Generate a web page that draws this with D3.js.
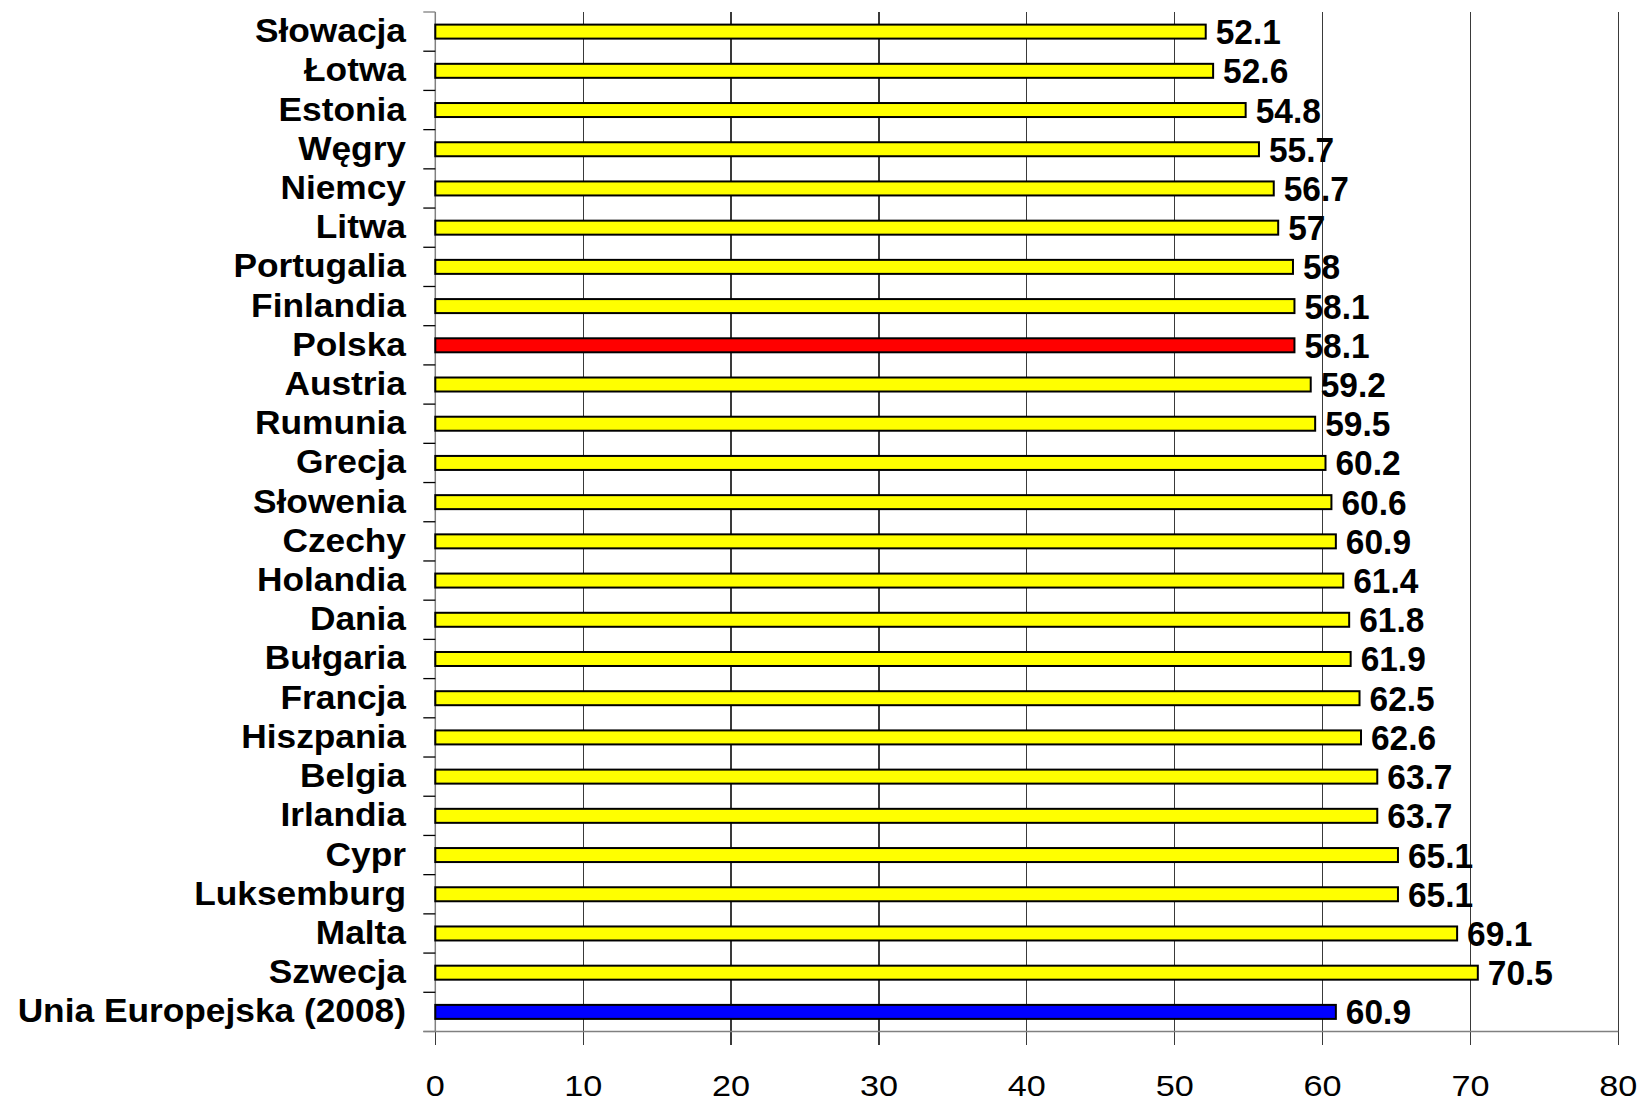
<!DOCTYPE html>
<html>
<head>
<meta charset="utf-8">
<script src="https://cdn.jsdelivr.net/npm/d3@7"></script>
<style>
  html, body { margin: 0; padding: 0; background: #fff; }
  svg { display: block; }
  text { font-family: "Liberation Sans", Arial, sans-serif; fill: #000; }
</style>
</head>
<body>
<svg id="chart" width="1644" height="1103"></svg>
<script>
// Countries, top to bottom
const categories = [
  "Słowacja", "Łotwa", "Estonia", "Węgry", "Niemcy", "Litwa", "Portugalia",
  "Finlandia", "Polska", "Austria", "Rumunia", "Grecja", "Słowenia", "Czechy",
  "Holandia", "Dania", "Bułgaria", "Francja", "Hiszpania", "Belgia", "Irlandia",
  "Cypr", "Luksemburg", "Malta", "Szwecja", "Unia Europejska (2008)"
];
const values = [
  52.1, 52.6, 54.8, 55.7, 56.7, 57, 58,
  58.1, 58.1, 59.2, 59.5, 60.2, 60.6, 60.9,
  61.4, 61.8, 61.9, 62.5, 62.6, 63.7, 63.7,
  65.1, 65.1, 69.1, 70.5, 60.9
];
const valueLabels = [
  "52.1", "52.6", "54.8", "55.7", "56.7", "57", "58",
  "58.1", "58.1", "59.2", "59.5", "60.2", "60.6", "60.9",
  "61.4", "61.8", "61.9", "62.5", "62.6", "63.7", "63.7",
  "65.1", "65.1", "69.1", "70.5", "60.9"
];
const xTicks = [0, 10, 20, 30, 40, 50, 60, 70, 80];
const highlight = { "Polska": "#ff0000", "Unia Europejska (2008)": "#0000ff" };
const baseColor = "#ffff00";

const rows = categories.map((c, i) => ({ name: c, value: values[i], label: valueLabels[i] }));

const svg = d3.select("#chart");
const plot = { left: 435.3, right: 1618.3, top: 12, bottom: 1031.5 };

const x = d3.scaleLinear().domain([0, 80]).range([plot.left, plot.right]);
const y = d3.scaleBand().domain(categories).range([plot.top, plot.bottom]).paddingInner(0).paddingOuter(0);
const barH = 14;

// vertical gridlines, running past the bottom axis as tick marks
svg.append("g")
  .selectAll("line")
  .data(xTicks)
  .join("line")
  .attr("x1", d => x(d)).attr("x2", d => x(d))
  .attr("y1", plot.top).attr("y2", plot.bottom + 13)
  .attr("stroke", "#3a3a3a")
  .attr("stroke-width", 1.2)
  .attr("shape-rendering", "crispEdges");

// category axis with ticks between bands
const yAxisG = svg.append("g");
yAxisG.append("line")
  .attr("x1", plot.left).attr("x2", plot.left)
  .attr("y1", plot.top).attr("y2", plot.bottom)
  .attr("stroke", "#808080").attr("stroke-width", 1.5);
const boundaries = categories.map(c => y(c)).concat([plot.bottom]);
yAxisG.selectAll("line.tick")
  .data(boundaries)
  .join("line")
  .attr("class", "tick")
  .attr("x1", plot.left - 12).attr("x2", plot.left)
  .attr("y1", d => d).attr("y2", d => d)
  .attr("stroke", (d, i) => (i === 0 || i === boundaries.length - 1) ? "#808080" : "#000")
  .attr("stroke-width", 1.3);

// bottom axis line
svg.append("line")
  .attr("x1", plot.left - 12).attr("x2", plot.right)
  .attr("y1", plot.bottom).attr("y2", plot.bottom)
  .attr("stroke", "#808080").attr("stroke-width", 1.5);

// bars
svg.append("g")
  .selectAll("rect")
  .data(rows)
  .join("rect")
  .attr("x", x(0))
  .attr("y", d => y(d.name) + y.bandwidth() / 2 - barH / 2)
  .attr("width", d => x(d.value) - x(0))
  .attr("height", barH)
  .attr("fill", d => highlight[d.name] || baseColor)
  .attr("stroke", "#000")
  .attr("stroke-width", 2);

// value labels
svg.append("g")
  .selectAll("text")
  .data(rows)
  .join("text")
  .attr("transform", d => `translate(${x(d.value) + 10},${y(d.name) + y.bandwidth() / 2 + 12.5}) scale(0.93,1)`)
  .attr("font-size", 36)
  .attr("font-weight", "bold")
  .text(d => d.label);

// category labels
svg.append("g")
  .selectAll("text")
  .data(rows)
  .join("text")
  .attr("transform", d => `translate(406,${y(d.name) + y.bandwidth() / 2 + 10.5}) scale(1.07,1)`)
  .attr("text-anchor", "end")
  .attr("font-size", 33)
  .attr("font-weight", "bold")
  .text(d => d.name);

// x tick labels
svg.append("g")
  .selectAll("text")
  .data(xTicks)
  .join("text")
  .attr("transform", d => `translate(${x(d)},1096) scale(1.18,1)`)
  .attr("text-anchor", "middle")
  .attr("font-size", 29)
  .text(d => d);
</script>
</body>
</html>
